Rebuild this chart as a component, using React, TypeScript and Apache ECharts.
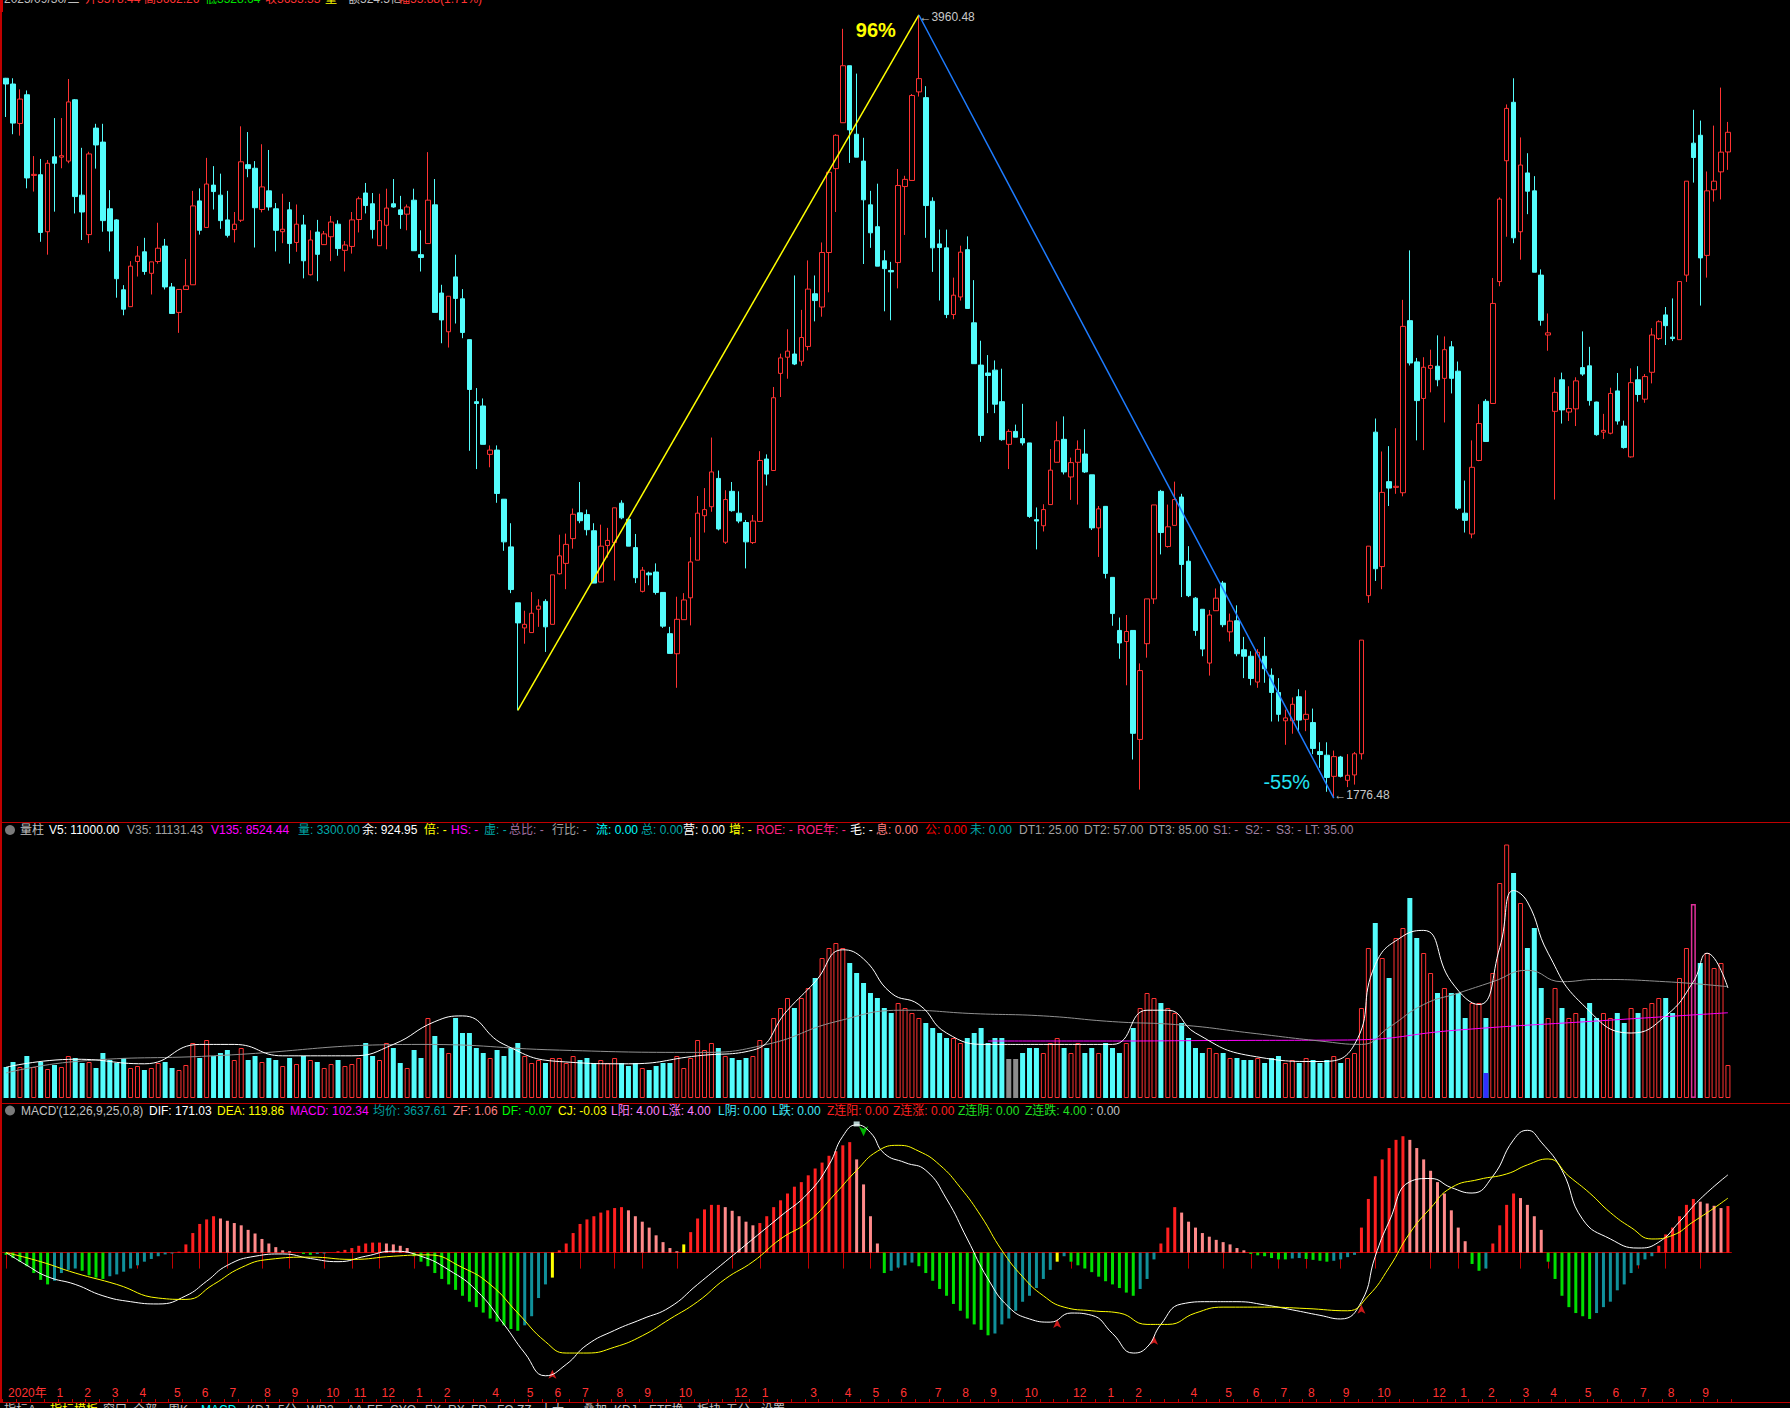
import React, { useEffect, useRef } from 'react';
import * as echarts from 'echarts';

const N = 250;
const opens = [3784,3768,3658,3738,3513,3515,3356,3565,3564,3553,3724,3458,3348,3645,3606,3420,3389,3194,3147,3273,3300,3240,3273,3316,3202,3131,3195,3208,3442,3368,3486,3458,3389,3362,3388,3543,3533,3418,3470,3420,3356,3417,3326,3375,3236,3355,3320,3342,3377,3304,3315,3390,3464,3434,3317,3374,3434,3417,3405,3444,3292,3323,3431,3185,3077,3230,3169,3055,2882,2870,2735,2747,2610,2477,2321,2251,2238,2303,2325,2261,2402,2431,2500,2572,2567,2522,2379,2481,2489,2599,2554,2475,2353,2404,2407,2350,2235,2179,2274,2335,2440,2564,2589,2668,2490,2632,2571,2545,2489,2548,2722,2690,2961,3006,3015,2995,3036,3183,3146,3298,3532,3660,3819,3628,3553,3431,3370,3275,3248,3270,3482,3499,3746,3730,3441,3322,3311,3125,3174,3306,3102,2984,2962,2970,2882,2763,2799,2779,2767,2553,2536,2595,2713,2777,2672,2713,2736,2678,2530,2590,2392,2244,2213,2244,1940,2207,2332,2632,2478,2537,2616,2437,2334,2303,2153,2299,2376,2240,2271,2190,2172,2100,2172,2119,2071,1992,1992,2059,1996,1987,1906,1896,1837,1891,1826,1841,1900,2341,2797,2422,2659,2643,2628,3108,2993,2891,2975,2981,2947,3035,2967,2571,2513,2718,2883,2877,3217,3554,3717,3356,3520,3470,3235,3068,2855,2943,2853,2862,2977,2982,2881,2797,2794,2912,2814,2728,2943,2889,2964,3058,3124,3062,3055,3235,3603,3625,3290,3473,3523,3578.44];
const closes = [3768,3659,3726,3506,3516,3354,3547,3547,3568,3718,3454,3411,3573,3598,3387,3358,3225,3140,3260,3288,3245,3272,3310,3202,3128,3195,3205,3428,3360,3489,3468,3387,3346,3377,3551,3532,3423,3481,3425,3360,3363,3323,3377,3275,3333,3293,3350,3383,3309,3319,3389,3448,3429,3362,3387,3422,3425,3404,3425,3303,3284,3444,3131,3110,3176,3170,3075,2916,2877,2763,2747,2626,2491,2358,2265,2261,2292,2312,2254,2399,2452,2484,2568,2550,2525,2376,2479,2495,2586,2558,2479,2391,2412,2399,2350,2256,2180,2275,2329,2435,2571,2581,2686,2527,2609,2578,2549,2491,2549,2718,2680,2893,3004,3023,2987,3061,3196,3164,3298,3522,3625,3819,3640,3564,3445,3353,3260,3253,3244,3485,3502,3736,3783,3429,3311,3312,3125,3179,3299,3142,2988,2788,2955,2875,2776,2799,2783,2767,2562,2549,2581,2691,2773,2686,2712,2749,2686,2530,2583,2403,2291,2209,2241,1957,2132,2332,2594,2517,2533,2609,2428,2341,2244,2192,2287,2334,2260,2270,2179,2172,2110,2183,2137,2071,2010,2000,2038,1994,2010,1915,1898,1834,1892,1837,1840,1900,2217,2479,2416,2629,2641,2646,3092,2990,2885,2978,2983,2943,3027,2947,2585,2551,2699,2821,2771,3156,3447,3700,3339,3542,3469,3243,3109,3074,2908,2859,2863,2940,2959,2885,2790,2802,2905,2828,2754,2935,2902,2952,3068,3105,3094,3058,3217,3497,3563,3283,3470,3497,3578,3633.33];
const lows = [3676,3628,3624,3477,3468,3328,3292,3412,3533,3547,3407,3333,3324,3532,3356,3301,3172,3123,3147,3231,3236,3181,3267,3195,3128,3074,3195,3208,3348,3368,3418,3364,3340,3326,3383,3508,3312,3410,3415,3301,3324,3267,3300,3226,3234,3218,3319,3274,3289,3245,3295,3354,3407,3337,3317,3307,3423,3364,3360,3303,3245,3323,3131,3045,3033,3100,3059,2745,2694,2763,2699,2600,2466,2348,2021,2207,2238,2254,2184,2261,2400,2359,2472,2543,2509,2376,2379,2447,2383,2554,2479,2376,2350,2370,2344,2251,2180,2084,2274,2258,2440,2517,2575,2523,2485,2575,2543,2417,2485,2548,2648,2690,2895,2946,2984,2982,3025,3106,3119,3187,3411,3660,3548,3564,3266,3311,3260,3134,3109,3198,3347,3499,3733,3339,3244,3164,3115,3112,3164,3142,2988,2770,2850,2850,2773,2694,2783,2760,2558,2470,2520,2595,2713,2679,2608,2595,2683,2524,2449,2389,2257,2165,2091,1884,1800,2168,2318,2456,2475,2537,2337,2337,2229,2172,2118,2299,2253,2213,2172,2111,2091,2084,2098,1990,1990,1925,1956,1963,1963,1899,1861,1794,1776.48,1834,1807,1814,1884,2321,2382,2359,2591,2625,2618,2983,2774,2747,2908,2925,2824,2905,2580,2517,2501,2716,2770,2877,3204,3342,3324,3278,3405,3243,3094,3024,2609,2821,2828,2814,2954,2871,2787,2778,2791,2818,2751,2726,2882,2879,2933,3054,3040,3051,3055,3216,3493,3150,3228,3440,3446,3528.64];
const highs = [3785,3784,3753,3750,3567,3559,3556,3673,3673,3782,3726,3590,3579,3657,3657,3472,3391,3207,3274,3316,3339,3272,3381,3336,3213,3195,3280,3470,3477,3562,3539,3518,3470,3411,3650,3634,3553,3600,3584,3436,3462,3439,3432,3403,3360,3389,3358,3400,3388,3330,3411,3454,3492,3464,3462,3476,3503,3456,3432,3476,3360,3578,3503,3208,3176,3292,3196,3055,2920,2891,2760,2760,2610,2543,2321,2299,2351,2331,2331,2399,2511,2514,2584,2658,2581,2543,2539,2530,2586,2607,2554,2513,2421,2408,2431,2350,2254,2338,2348,2504,2619,2641,2782,2690,2635,2658,2632,2552,2566,2744,2735,2923,3016,3084,3234,3138,3276,3234,3326,3522,3628,3922,3819,3797,3618,3470,3490,3304,3272,3531,3512,3740,3960.48,3762,3452,3362,3362,3228,3317,3343,3221,3052,3012,2997,2974,2805,2818,2876,2767,2587,2596,2750,2827,2841,2726,2774,2805,2678,2591,2591,2392,2280,2287,2244,2152,2332,2594,2636,2595,2659,2625,2479,2337,2303,2301,2361,2382,2291,2314,2226,2186,2192,2226,2138,2111,2023,2057,2080,2077,2026,1932,1932,1909,1894,1899,1905,2217,2479,2835,2743,2758,2808,3166,3304,3004,3006,3027,3067,3064,3051,2994,2662,2774,2875,2889,3227,3452,3711,3784,3619,3575,3511,3251,3128,2950,2963,2925,2950,3078,3035,2882,2848,2921,2962,2829,2975,2981,2959,3087,3109,3146,3170,3217,3497,3696,3666,3524,3652,3758,3662.26];

const volumes = [3100,3600,3100,4200,3100,3600,2900,3300,3100,4200,4000,3500,3600,3000,4500,3800,3500,4000,3000,3200,2800,3000,3500,3600,3000,2800,3300,5500,4000,5800,4200,4500,4800,3800,5000,3800,4200,3600,4000,3800,3200,4000,3400,4200,3800,3600,3000,3400,3800,3200,3400,4000,5500,4200,3800,5500,5000,3500,3000,4800,4000,8000,6200,5000,4500,8000,6500,6500,5000,4500,4000,4800,4200,5000,5500,4200,3500,3800,3500,4000,4000,3500,4200,3800,4000,3500,3800,3500,4000,3500,3200,3500,3000,2800,3200,3500,3500,4200,3000,4000,5800,4800,5500,5000,4200,4000,3800,4000,4200,5800,5000,8000,9000,10000,9000,10000,11000,12000,14000,15000,15500,15000,13500,12500,11500,10500,10000,9000,8500,9500,9000,8500,8000,7500,7000,6500,6000,6000,5500,6000,6500,7000,5500,6000,6000,3900,3900,4500,5000,5000,4500,5500,6000,5000,4500,5500,4500,5000,4500,5500,5000,4500,5500,7000,9000,10500,10000,9500,9000,8500,7500,6000,5000,4500,5000,4500,4500,4000,4000,3800,3800,4000,3500,4000,4200,3500,3800,3500,4000,3800,3500,3800,4200,3500,4000,4500,9000,15000,17500,14000,12000,16000,17000,20000,16000,14500,12500,10500,11000,10500,10500,8000,9500,9500,8000,12500,21500,25500,22500,19500,15000,17000,11000,8000,11000,9000,8000,8500,8000,9500,8000,8500,8000,8500,7500,9000,8500,9000,9500,10000,10000,8500,12000,15000,19400,13500,14500,13000,13500,3300];
const specialVol: [number, number, string][] = [[214, 2500, '#3030FF']];
const grayVolIdx = [145, 146];
const magentaVolIdx = [244];

const macdHist = [-5,-12,-20,-30,-45,-60,-70,-62,-45,-38,-35,-40,-50,-55,-58,-52,-48,-42,-35,-28,-20,-14,-8,-4,-2,2,18,43,63,73,80,75,70,65,60,50,42,30,20,12,5,3,0,-3,-5,-3,-2,0,3,6,10,15,20,22,22,20,18,15,10,-8,-20,-30,-45,-58,-70,-82,-95,-108,-120,-132,-145,-152,-160,-168,-172,-160,-140,-100,-70,-55,5,20,43,63,73,80,88,93,98,100,93,80,68,55,38,23,10,3,18,45,75,95,105,105,100,92,80,68,60,65,80,100,115,130,145,155,170,185,198,213,223,236,243,205,150,80,20,-45,-40,-33,-28,-22,-30,-45,-62,-80,-95,-113,-128,-145,-158,-170,-182,-178,-158,-145,-128,-108,-95,-78,-58,-38,-20,-8,-20,-28,-35,-43,-53,-63,-70,-78,-88,-95,-80,-58,-15,20,55,100,88,68,55,43,35,28,23,18,10,5,-3,-6,-8,-12,-15,-15,-13,-12,-14,-16,-18,-20,-18,-15,-10,-5,55,118,168,205,230,248,256,248,230,205,180,155,130,93,55,25,-25,-40,-35,20,60,105,130,120,105,80,50,-20,-58,-95,-120,-133,-140,-146,-133,-120,-108,-83,-70,-45,-28,-15,-8,15,40,55,80,105,118,112,108,103,98,102.34];
const yellowHistIdx = [79, 98, 152];

const difPoints: [number, number][] = [[0,0],[3,-28],[6,-53],[10,-70],[14,-95],[18,-108],[22,-113],[26,-95],[29,-63],[32,-28],[36,-8],[40,-3],[44,-13],[48,-20],[52,-8],[56,3],[60,-8],[64,-38],[68,-83],[72,-158],[75,-221],[78,-271],[81,-246],[84,-203],[88,-171],[92,-146],[96,-120],[100,-70],[104,-20],[108,30],[112,80],[116,131],[119,193],[121,256],[123,281],[125,264],[127,218],[130,198],[133,181],[136,118],[139,30],[142,-58],[145,-120],[148,-146],[151,-153],[154,-133],[157,-138],[160,-178],[163,-221],[165,-208],[167,-158],[170,-113],[174,-108],[178,-108],[182,-115],[186,-126],[190,-138],[193,-146],[196,-108],[198,-8],[200,68],[203,156],[206,163],[209,143],[212,131],[215,168],[218,248],[220,269],[222,243],[225,181],[228,73],[232,30],[236,10],[239,23],[242,68],[245,118],[249,171.03]];
const deaPoints: [number, number][] = [[0,0],[5,-20],[10,-45],[16,-70],[22,-100],[26,-103],[30,-70],[34,-33],[38,-15],[44,-10],[50,-15],[56,-8],[61,-5],[66,-33],[70,-70],[74,-133],[78,-196],[81,-221],[84,-221],[88,-208],[92,-183],[96,-146],[100,-108],[104,-58],[108,-20],[112,30],[116,68],[120,131],[123,181],[126,223],[129,236],[132,223],[135,193],[138,143],[141,80],[144,5],[147,-53],[150,-95],[153,-120],[157,-128],[161,-133],[165,-158],[168,-158],[172,-133],[176,-120],[182,-120],[188,-123],[194,-128],[197,-95],[200,-33],[203,43],[206,98],[209,143],[213,161],[217,173],[220,193],[223,206],[226,168],[229,131],[232,88],[235,55],[238,30],[241,38],[244,68],[247,98],[249,119.86]];
const goldCross: [number, number][] = [[79, -258], [152, -146], [166, -183], [196, -115]];
const deadCross: [number, number][] = [[124, 256]];
const topMark: [number, number][] = [[123, 283]];

const volMa5Points: [number, number][] = [[0,3078],[10,3876],[20,3420],[28,5358],[33,5358],[40,4218],[50,4218],[56,5358],[62,7638],[66,8208],[72,5358],[80,3648],[90,3420],[100,4218],[108,4788],[113,8778],[117,11628],[121,14820],[124,13908],[128,10488],[132,9348],[136,6498],[142,5358],[150,5358],[160,5358],[165,8778],[168,8778],[172,6498],[180,4218],[190,3648],[195,5358],[198,13338],[202,16188],[205,16758],[209,11628],[213,9348],[216,15048],[218,20748],[220,19608],[223,14478],[228,9348],[235,6498],[240,8208],[244,11628],[246,14478],[249,11000]];
const volMa35Points: [number, number][] = [[0,2508],[10,3648],[30,4218],[60,5358],[80,4788],[100,4560],[110,5358],[120,7638],[130,8778],[140,8436],[150,8208],[160,7638],[170,7296],[180,6498],[190,5700],[196,5358],[200,7068],[205,9348],[210,10488],[215,11628],[220,12768],[225,11628],[230,11856],[240,11628],[249,11131.43]];
const volMa135Points: [number, number][] = [[142,5700],[160,5700],[175,5750],[194,5800],[210,6800],[230,7700],[249,8524.44]];

const monthLabels: [number, string][] = [[0,'2020年'],[7,'1'],[11,'2'],[15,'3'],[19,'4'],[24,'5'],[28,'6'],[32,'7'],[37,'8'],[41,'9'],[46,'10'],[50,'11'],[54,'12'],[59,'1'],[63,'2'],[70,'4'],[75,'5'],[79,'6'],[83,'7'],[88,'8'],[92,'9'],[97,'10'],[105,'12'],[109,'1'],[116,'3'],[121,'4'],[125,'5'],[129,'6'],[134,'7'],[138,'8'],[142,'9'],[147,'10'],[154,'12'],[159,'1'],[163,'2'],[171,'4'],[176,'5'],[180,'6'],[184,'7'],[188,'8'],[193,'9'],[198,'10'],[206,'12'],[210,'1'],[214,'2'],[219,'3'],[223,'4'],[228,'5'],[232,'6'],[236,'7'],[240,'8'],[245,'9']];

const RISE_LOW: [number, number] = [74, 2021];
const PEAK: [number, number] = [132, 3960.48];
const BOTTOM: [number, number] = [192, 1776.48];

const UP = '#FF3232';
const DOWN = '#54FCFC';
const FRAME = '#C00000';
const FONT = '"Liberation Sans", Arial, "Noto Sans CJK SC", sans-serif';

const topHeader: [number, string, string][] = [[4,'2025/09/30/二','#C0C0C0'],[85,'开3578.44','#FF3232'],[144,'高3662.26','#FF3232'],[205,'低3528.64','#00E000'],[265,'收3633.33','#FF3232'],[325,'量','#FFFF00'],[348,'额524.5亿','#C0C0C0'],[398,'幅55.88(1.71%)','#FF3232']];
const volHeader: [number, string, string][] = [[20,'量柱','#C0C0C0'],[49,'V5: 11000.00','#FFFFFF'],[127,'V35: 11131.43','#A0A0A0'],[211,'V135: 8524.44','#FF00FF'],[298,'量: 3300.00','#00A8A8'],[362,'余: 924.95','#FFFFFF'],[424,'倍: -','#FFFF00'],[451,'HS: -','#FF00FF'],[484,'虚: -','#00A8A8'],[509,'总比: -','#A070A0'],[552,'行比: -','#A0A0A0'],[596,'流: 0.00','#00FFFF'],[641,'总: 0.00','#00A8A8'],[683,'营: 0.00','#FFFFFF'],[729,'增: -','#FFFF00'],[756,'ROE: -','#FF2080'],[797,'ROE年: -','#FF2080'],[850,'毛: -','#FFFFFF'],[876,'息: 0.00','#FF8080'],[925,'公: 0.00','#FF0000'],[970,'未: 0.00','#00A8A8'],[1019,'DT1: 25.00','#A0A0A0'],[1084,'DT2: 57.00','#A0A0A0'],[1149,'DT3: 85.00','#A0A0A0'],[1213,'S1: -','#A080A0'],[1245,'S2: -','#A080A0'],[1276,'S3: -','#A080A0'],[1305,'LT: 35.00','#A080A0']];
const macdHeader: [number, string, string][] = [[21,"MACD'(12,26,9,25,0,8)",'#C0C0C0'],[149,'DIF: 171.03','#FFFFFF'],[217,'DEA: 119.86','#FFFF00'],[290,'MACD: 102.34','#FF00FF'],[373,'均价: 3637.61','#00A0A0'],[453,'ZF: 1.06','#FF8080'],[502,'DF: -0.07','#00FF00'],[558,'CJ: -0.03','#FFFF00'],[611,'L阳: 4.00','#FF80FF'],[662,'L涨: 4.00','#FF80FF'],[718,'L阴: 0.00','#40E8F8'],[772,'L跌: 0.00','#40E8F8'],[827,'Z连阳: 0.00','#FF2020'],[893,'Z连涨: 0.00','#FF2020'],[958,'Z连阴: 0.00','#20E020'],[1025,'Z连跌: 4.00','#20E020'],[1090,': 0.00','#C0C0C0']];
const tabs: [number, string, string][] = [[4,'指标A','#C0C0C0'],[50,'指标模板','#FFFF00'],[103,'窗口','#C0C0C0'],[133,'全部','#C0C0C0'],[168,'周K','#C0C0C0'],[201,'MACD','#00FFFF'],[247,'KDJ','#C0C0C0'],[278,'5分','#C0C0C0'],[307,'WR3','#C0C0C0'],[347,'AA','#C0C0C0'],[367,'EE','#C0C0C0'],[390,'CYQ','#C0C0C0'],[425,'EX','#C0C0C0'],[448,'RX','#C0C0C0'],[471,'FD','#C0C0C0'],[497,'FQ','#C0C0C0'],[517,'ZZ','#C0C0C0'],[540,'十大','#C0C0C0'],[583,'叠加','#C0C0C0'],[614,'KDJ','#C0C0C0'],[649,'ETF换','#C0C0C0'],[697,'板块','#C0C0C0'],[726,'五分','#C0C0C0'],[761,'设置','#C0C0C0']];

function sparse(pts: [number, number][]) {
  const a: (number | null)[] = new Array(N).fill(null);
  pts.forEach(([i, v]) => { a[i] = v; });
  return a;
}

function textRow(items: [number, string, string][], y: number) {
  return items.map(([x, t, c]) => ({
    type: 'text', x, y, silent: true,
    style: { text: t, fill: c, fontSize: 12, fontFamily: FONT, verticalAlign: 'middle', align: 'left' },
  }));
}

export default function App() {
  const ref = useRef<HTMLDivElement>(null);
  useEffect(() => {
    document.body.style.margin = '0';
    document.body.style.background = '#000';
    const chart = echarts.init(ref.current!, null, { renderer: 'svg' });
    const cats = Array.from({ length: N }, (_, i) => String(i));
    const labelMap = new Map(monthLabels);
    const GL = 2.64, GW = 1728.75;

    const candles = opens.map((o, i) => [o, closes[i], lows[i], highs[i]]);
    const volData = volumes.map((v, i) => {
      let itemStyle: any = closes[i] >= opens[i]
        ? { color: '#000', borderColor: UP, borderWidth: 1 }
        : { color: DOWN, borderWidth: 0 };
      if (grayVolIdx.includes(i)) itemStyle = { color: '#8C8C8C', borderWidth: 0 };
      if (magentaVolIdx.includes(i)) itemStyle = { color: '#000', borderColor: '#E0309A', borderWidth: 1.5 };
      return { value: v, itemStyle };
    });
    const overlayVol = new Array(N).fill(null);
    specialVol.forEach(([i, v, c]) => { overlayVol[i] = { value: v, itemStyle: { color: c } }; });
    const histData = macdHist.map((v, i) => {
      const prev = i > 0 ? macdHist[i - 1] : 0;
      let c;
      if (v >= 0) c = v >= prev ? '#FF2020' : '#FF8A8A';
      else c = v <= prev ? '#00E000' : '#10909A';
      if (yellowHistIdx.includes(i)) c = '#FFFF00';
      return { value: v, itemStyle: { color: c } };
    });

    const riseLine = new Array(N).fill(null); riseLine[RISE_LOW[0]] = RISE_LOW[1]; riseLine[PEAK[0]] = PEAK[1];
    const fallLine = new Array(N).fill(null); fallLine[PEAK[0]] = PEAK[1]; fallLine[BOTTOM[0]] = BOTTOM[1];
    const ptsData = (pts: [number, number][]) => pts.map(([i, v]) => [String(i), v]);

    const option: any = {
      animation: false,
      backgroundColor: '#000',
      grid: [
        { left: GL, width: GW, top: 0, height: 822 },
        { left: GL, width: GW, top: 845, height: 253 },
        { left: GL, width: GW, top: 1110, height: 275 },
        { left: GL, width: GW, top: 1385, height: 17 },
      ],
      xAxis: [
        { type: 'category', gridIndex: 0, data: cats, show: false },
        { type: 'category', gridIndex: 1, data: cats, show: false },
        {
          type: 'category', gridIndex: 2, data: cats, position: 'bottom',
          axisLine: { show: true, lineStyle: { color: FRAME, width: 1 } },
          axisTick: { show: true, alignWithLabel: true, length: 16, interval: (i: number) => labelMap.has(i), lineStyle: { color: FRAME } },
          axisLabel: { show: true, interval: (i: number) => labelMap.has(i), formatter: (_v: string, i: number) => labelMap.get(i) || '', color: '#FF3232', fontSize: 12, fontFamily: FONT, align: 'left', margin: 2, padding: [0, 0, 0, 2] },
          splitLine: { show: false },
        },
        {
          type: 'category', gridIndex: 3, data: cats, position: 'top',
          axisLine: { show: false },
          axisTick: { show: true, length: 3, interval: 1, lineStyle: { color: FRAME } },
          axisLabel: { show: false }, splitLine: { show: false },
        },
      ],
      yAxis: [
        { type: 'value', gridIndex: 0, min: 1709.7, max: 4002.3, show: false },
        { type: 'value', gridIndex: 1, min: 0, max: 25300, show: false },
        { type: 'value', gridIndex: 2, min: -291.3, max: 313.7, show: false },
        { type: 'value', gridIndex: 3, min: 0, max: 1, show: false },
      ],
      series: [
        {
          type: 'candlestick', xAxisIndex: 0, yAxisIndex: 0, data: candles, barWidth: 5,
          itemStyle: { color: '#000', color0: DOWN, borderColor: UP, borderColor0: DOWN, borderWidth: 1 },
          markPoint: {
            symbol: 'circle', symbolSize: 1, itemStyle: { color: 'rgba(0,0,0,0)' },
            data: [
              { coord: [String(PEAK[0]), PEAK[1]], label: { show: true, position: 'right', distance: 0, offset: [0, 2], formatter: '\u2190' + PEAK[1].toFixed(2), color: '#C8C8C8', fontSize: 12, fontFamily: FONT } },
              { coord: [String(BOTTOM[0]), BOTTOM[1]], label: { show: true, position: 'right', distance: 0, offset: [0, -3], formatter: '\u2190' + BOTTOM[1].toFixed(2), color: '#C8C8C8', fontSize: 12, fontFamily: FONT } },
            ],
          },
        },
        {
          type: 'line', xAxisIndex: 0, yAxisIndex: 0, data: riseLine, connectNulls: true, symbol: 'none',
          lineStyle: { color: '#FFFF00', width: 1.5 },
          markPoint: {
            symbol: 'circle', symbolSize: 1, itemStyle: { color: 'rgba(0,0,0,0)' },
            data: [{ coord: [String(PEAK[0]), PEAK[1]], label: { show: true, position: 'inside', offset: [-43, 15], formatter: '96%', color: '#FFFF00', fontSize: 20, fontWeight: 'bold', fontFamily: FONT } }],
          },
        },
        {
          type: 'line', xAxisIndex: 0, yAxisIndex: 0, data: fallLine, connectNulls: true, symbol: 'none',
          lineStyle: { color: '#1E7CFF', width: 1.5 },
          markPoint: {
            symbol: 'circle', symbolSize: 1, itemStyle: { color: 'rgba(0,0,0,0)' },
            data: [{ coord: [String(BOTTOM[0]), BOTTOM[1]], label: { show: true, position: 'inside', offset: [-47, -16], formatter: '-55%', color: '#22E4F4', fontSize: 20, fontFamily: FONT } }],
          },
        },
        { type: 'bar', xAxisIndex: 1, yAxisIndex: 1, data: volData, barWidth: 5 },
        { type: 'bar', xAxisIndex: 1, yAxisIndex: 1, data: overlayVol, barWidth: 5, barGap: '-100%' },
        { type: 'line', xAxisIndex: 1, yAxisIndex: 1, data: sparse(volMa135Points), connectNulls: true, symbol: 'none', smooth: true, lineStyle: { color: '#FF00FF', width: 1 } },
        { type: 'line', xAxisIndex: 1, yAxisIndex: 1, data: sparse(volMa35Points), connectNulls: true, symbol: 'none', smooth: true, lineStyle: { color: '#909090', width: 1 } },
        { type: 'line', xAxisIndex: 1, yAxisIndex: 1, data: sparse(volMa5Points), connectNulls: true, symbol: 'none', smooth: true, lineStyle: { color: '#FFFFFF', width: 1 } },
        { type: 'bar', xAxisIndex: 2, yAxisIndex: 2, data: histData, barWidth: 3 },
        { type: 'line', xAxisIndex: 2, yAxisIndex: 2, data: sparse(difPoints), connectNulls: true, symbol: 'none', smooth: true, lineStyle: { color: '#FFFFFF', width: 1 } },
        { type: 'line', xAxisIndex: 2, yAxisIndex: 2, data: sparse(deaPoints), connectNulls: true, symbol: 'none', smooth: true, lineStyle: { color: '#FFFF00', width: 1 } },
        { type: 'scatter', xAxisIndex: 2, yAxisIndex: 2, data: ptsData(goldCross), symbol: 'arrow', symbolSize: [6, 9], itemStyle: { color: '#FF2020' } },
        { type: 'scatter', xAxisIndex: 2, yAxisIndex: 2, data: ptsData(deadCross), symbol: 'arrow', symbolRotate: 180, symbolSize: [7, 10], itemStyle: { color: '#00E000' } },
        { type: 'scatter', xAxisIndex: 2, yAxisIndex: 2, data: ptsData(topMark), symbol: 'rect', symbolSize: [6, 5], itemStyle: { color: '#E0FFFF' } },
      ],
      graphic: [
        { type: 'line', silent: true, shape: { x1: 1, y1: 0, x2: 1, y2: 1402 }, style: { stroke: FRAME, lineWidth: 2 } },
        { type: 'rect', silent: true, shape: { x: 0, y: 0, width: 3, height: 12 }, style: { fill: '#D00000' } },
        { type: 'line', silent: true, shape: { x1: 0, y1: 822.5, x2: 1790, y2: 822.5 }, style: { stroke: FRAME, lineWidth: 1 } },
        { type: 'line', silent: true, shape: { x1: 0, y1: 1103.5, x2: 1790, y2: 1103.5 }, style: { stroke: FRAME, lineWidth: 1 } },
        { type: 'line', silent: true, shape: { x1: 0, y1: 1402.5, x2: 1790, y2: 1402.5 }, style: { stroke: FRAME, lineWidth: 1 } },
        { type: 'circle', silent: true, shape: { cx: 10, cy: 830, r: 5 }, style: { fill: '#7A7A7A' } },
        { type: 'circle', silent: true, shape: { cx: 10, cy: 1110.5, r: 5 }, style: { fill: '#7A7A7A' } },
        ...textRow(topHeader, -1),
        ...textRow(volHeader, 830),
        ...textRow(macdHeader, 1110.5),
        ...textRow(tabs, 1409.5),
      ],
    };
    chart.setOption(option);
    return () => chart.dispose();
  }, []);
  return <div ref={ref} style={{ position: 'fixed', left: 0, top: 0, width: 1790, height: 1408, background: '#000', overflow: 'hidden' }} />;
}
